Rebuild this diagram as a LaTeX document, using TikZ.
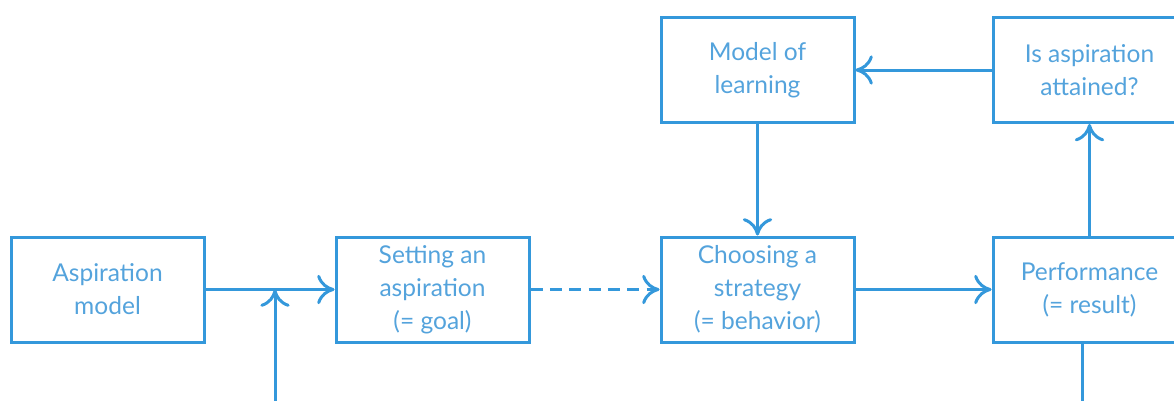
\documentclass[tikz,border=0pt]{standalone}
\usepackage{fontspec}
\setmainfont{Lato}
\usepackage{tikz}
\usetikzlibrary{arrows.meta,calc}

\definecolor{lineblue}{RGB}{52,152,219}
\definecolor{textblue}{RGB}{84,163,220}

\begin{document}
\begin{tikzpicture}[x=0.75pt,y=0.75pt,yscale=-1,xscale=1,
    box/.style={draw=lineblue, line width=2.25pt, minimum width=144.75pt, minimum height=78.75pt, inner sep=0pt,
                text=textblue, align=center, font=\fontsize{18.4}{24.75}\selectfont},
    flow/.style={draw=lineblue, line width=2.25pt, -{Computer Modern Rightarrow[length=13pt,width=22pt,line cap=round]}}]
    %set diagram size
    \clip (0,0) rectangle (1174,400);

    %Rectangles
    \node[box] (aspmodel) at (107.5,289.5) {Aspiration\\model};
    \node[box] (setgoal) at (432.5,289.5) {Setting an\\aspiration\\(= goal)};
    \node[box] (strategy) at (757.5,289.5) {Choosing a\\strategy\\(= behavior)};
    \node[box] (perform) at (1089.5,289.5) {Performance\\(= result)};
    \node[box] (learning) at (757.5,70) {Model of\\learning};
    \node[box] (attained) at (1089.5,70) {Is aspiration\\attained?};

    %free ends at the bottom edge
    \coordinate (feedin) at (275,402);
    \coordinate (feedout) at (1082,402);

    %Straight Lines
    \draw[flow] (aspmodel) -- (setgoal);
    \draw[flow, dashed, dash pattern=on 9pt off 5.5pt] (setgoal) -- (strategy);
    \draw[flow] (strategy) -- (perform);
    \draw[flow] (perform) -- (attained);
    \draw[flow] (attained) -- (learning);
    \draw[flow] (learning) -- (strategy);
    \draw[flow] (feedin) -- (feedin |- aspmodel.east);
    \draw[draw=lineblue, line width=2.25pt] (perform.south -| feedout) -- (feedout);

\end{tikzpicture}
\end{document}
